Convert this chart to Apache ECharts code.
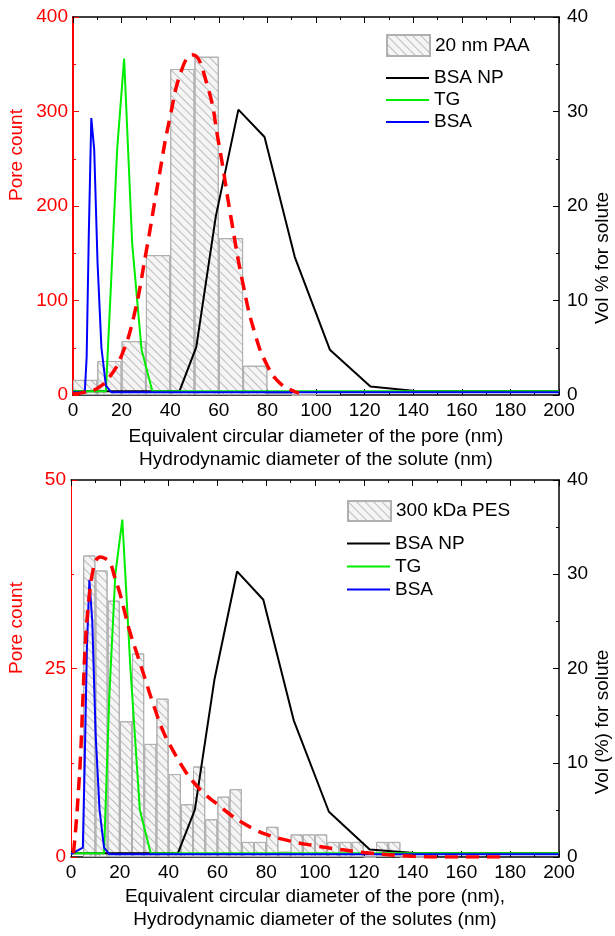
<!DOCTYPE html>
<html><head><meta charset="utf-8">
<script src="https://cdn.jsdelivr.net/npm/echarts@6/dist/echarts.min.js"></script>
<style>html,body{margin:0;padding:0;background:#fff}#c{width:615px;height:936px}</style>
</head><body><div id="c"></div>
<script>
// ---------- DATA ----------
// Top panel: 20 nm PAA pore histogram (bin start, width 10 nm) and fit
const topBinStarts = [0, 10, 20, 30, 40, 50, 60, 70, 80, 90, 100];
const topCounts    = [16, 36, 57, 148, 345, 358, 166, 31, 2, 0, 1];
const topFitX = [0, 5, 10, 15, 20, 25, 30, 35, 40, 45, 49, 55, 60, 65, 70, 75, 80, 85, 90, 93];
const topFitY = [1, 3, 7, 19, 42, 83, 150, 225, 295, 346, 360, 330, 266, 188, 117, 64, 31, 13, 5, 2];
// Bottom panel: 300 kDa PES pore histogram (bin start, width 5 nm) and fit
const botBinStarts = [5, 10, 15, 20, 25, 30, 35, 40, 45, 50, 55, 60, 65, 70, 75, 80, 85, 90, 95, 100, 105, 110, 115, 120, 125, 130, 135, 140, 145];
const botCounts    = [40, 38, 34, 18, 27, 15, 21, 11, 7, 12, 5, 8, 9, 2, 2, 4, 0.7, 3, 3, 3, 2, 2, 2, 0, 2, 2, 0, 0, 0.5];
const botFitX = [1, 2, 3, 4, 5, 6, 7, 8, 9, 10, 12, 14, 16, 18, 20, 22, 24, 27, 30, 34, 38, 42, 46, 50, 55, 60, 65, 70, 75, 80, 90, 100, 110, 120, 130, 140, 150, 178];
const botFitY = [0.5, 4, 8.5, 14, 22, 29, 33, 36, 38, 39.2, 39.8, 39.6, 39, 37, 35, 32.5, 30, 27, 24, 20, 16.5, 14, 11.8, 10, 8.3, 7, 5.7, 4.6, 3.7, 3, 2.1, 1.5, 1, 0.6, 0.3, 0.1, 0, 0];
// DLS size bins (nm) and volume % for solutes
const bsaX   = [0, 4.85, 5.615, 6.503, 7.531, 8.721, 10.1, 11.7, 13.54, 15.69, 200];
const bsaTop = [0.3, 0.3, 4, 17, 29.3, 26, 14, 5, 1, 0.3, 0.3];
const bsaBot = [0.3, 1, 10, 22, 29.4, 25, 13, 5, 1, 0.3, 0.3];
const tgX    = [0, 13.54, 15.69, 18.17, 21.04, 24.36, 28.21, 32.67, 200];
const tgTop  = [0.4, 0.4, 12, 26, 35.6, 16, 4.8, 0.4, 0.4];
const tgBot  = [0.4, 0.4, 17, 30, 35.8, 20, 5, 0.4, 0.4];
const npX    = [0, 37.84, 43.82, 50.75, 58.77, 68.06, 78.82, 91.28, 105.7, 122.4, 141.8, 200];
const npTop  = [0.4, 0.4, 0.4, 5.1, 18.9, 30.2, 27.3, 14.6, 4.8, 0.9, 0.4, 0.4];
const npBot  = [0.4, 0.4, 0.4, 5, 18.8, 30.3, 27.3, 14.5, 4.8, 0.8, 0.4, 0.4];

// ---------- LAYOUT ----------
const FONT = 'Liberation Sans, Arial, sans-serif';
const FS = 19;
const G0 = {left: 73, top: 17, width: 486, height: 378};
const G1 = {left: 71, top: 480, width: 488, height: 377};
const zip = (xs, ys) => xs.map((x, i) => [x, ys[i]]);
const hatch = {symbol: 'rect', symbolSize: 1, dashArrayX: [[1, 0]], dashArrayY: [1, 5], rotation: Math.PI / 4, color: 'rgba(120,120,120,0.45)'};

function xAx(grid, pos, name) {
  return {
    gridIndex: grid, type: 'value', position: pos, min: 0, max: 200, interval: 20,
    axisLine: {show: true, onZero: false, lineStyle: {color: '#000', width: 1.5}},
    axisTick: {show: true, inside: true, length: 6, lineStyle: {color: '#000', width: 1}},
    minorTick: {show: true, splitNumber: 2, length: 3, lineStyle: {color: '#000'}},
    axisLabel: {show: pos === 'bottom', color: '#000', fontSize: FS, fontFamily: FONT, margin: 6},
    splitLine: {show: false},
    name: name || '', nameLocation: 'middle', nameGap: 0,
    nameTextStyle: {color: '#000', fontSize: FS, fontFamily: FONT, lineHeight: 23, verticalAlign: 'top'}
  };
}
function yAx(grid, pos, max, interval, color, lw) {
  return {
    gridIndex: grid, type: 'value', position: pos, min: 0, max: max, interval: interval,
    axisLine: {show: true, onZero: false, lineStyle: {color: color, width: lw}},
    axisTick: {show: true, inside: true, length: 6, lineStyle: {color: color, width: 1}},
    minorTick: {show: true, splitNumber: 2, length: 3, lineStyle: {color: color}},
    axisLabel: {color: color, fontSize: FS, fontFamily: FONT, margin: pos === 'left' ? 5 : 8},
    splitLine: {show: false}
  };
}

const xb0 = xAx(0, 'bottom', 'Equivalent circular diameter of the pore (nm)\nHydrodynamic diameter of the solute (nm)');
xb0.nameGap = 30;
const xb1 = xAx(1, 'bottom', 'Equivalent circular diameter of the pore (nm),\nHydrodynamic diameter of the solutes (nm)');
xb1.nameGap = 28;

const barW0 = G0.width / 200 * 10;
const barW1 = G1.width / 200 * 5;

function lineS(name, xi, yi, xs, ys, color) {
  return {name: name, type: 'line', xAxisIndex: xi, yAxisIndex: yi, data: zip(xs, ys),
    symbol: 'none', lineStyle: {color: color, width: 2}, itemStyle: {color: color}, z: 3};
}
const lineLegendItem = n => ({name: n, icon: 'rect'});

const option = {
  animation: false,
  backgroundColor: '#fff',
  grid: [
    {left: G0.left, top: G0.top, width: G0.width, height: G0.height},
    {left: G1.left, top: G1.top, width: G1.width, height: G1.height}
  ],
  xAxis: [xb0, xAx(0, 'top'), xb1, xAx(1, 'top')],
  yAxis: [
    yAx(0, 'left', 400, 100, '#ff0000', 2),
    yAx(0, 'right', 40, 10, '#000', 1.5),
    yAx(1, 'left', 50, 25, '#ff0000', 1),
    yAx(1, 'right', 40, 10, '#000', 1.5)
  ],
  legend: [
    {data: [{name: '20 nm PAA', icon: 'rect'}], left: 381, top: 29, itemWidth: 43, itemHeight: 21, itemGap: 0,
     textStyle: {fontSize: FS, fontFamily: FONT, color: '#000'}},
    {data: ['BSA NP', 'TG', 'BSA'].map(lineLegendItem), orient: 'vertical', left: 381, top: 62, itemWidth: 43, itemHeight: 2, itemGap: 0,
     textStyle: {fontSize: FS, fontFamily: FONT, color: '#000', lineHeight: 22}},
    {data: [{name: '300 kDa PES', icon: 'rect'}], left: 342, top: 495, itemWidth: 43, itemHeight: 20, itemGap: 0,
     textStyle: {fontSize: FS, fontFamily: FONT, color: '#000'}},
    {data: ['BSA NP ', 'TG ', 'BSA '].map(lineLegendItem), orient: 'vertical', left: 342, top: 527, itemWidth: 43, itemHeight: 2, itemGap: 0,
     textStyle: {fontSize: FS, fontFamily: FONT, color: '#000', lineHeight: 23},
     formatter: n => n.trim()}
  ],
  graphic: [
    {type: 'text', x: 17, y: 155, rotation: Math.PI / 2, style: {text: 'Pore count', fill: '#ff0000', font: FS + 'px ' + FONT, align: 'center', verticalAlign: 'middle'}},
    {type: 'text', x: 603, y: 258, rotation: Math.PI / 2, style: {text: 'Vol % for solute', fill: '#000', font: FS + 'px ' + FONT, align: 'center', verticalAlign: 'middle'}},
    {type: 'text', x: 17, y: 628, rotation: Math.PI / 2, style: {text: 'Pore count', fill: '#ff0000', font: FS + 'px ' + FONT, align: 'center', verticalAlign: 'middle'}},
    {type: 'text', x: 603, y: 722, rotation: Math.PI / 2, style: {text: 'Vol (%) for solute', fill: '#000', font: FS + 'px ' + FONT, align: 'center', verticalAlign: 'middle'}}
  ],
  series: [
    {name: '20 nm PAA', type: 'bar', xAxisIndex: 0, yAxisIndex: 0, barWidth: barW0,
     data: topBinStarts.map((s, i) => [s + 5, topCounts[i]]),
     itemStyle: {color: '#f5f5f5', borderColor: '#b0b0b0', borderWidth: 1, decal: hatch}, z: 1},
    {name: 'Fit top', type: 'line', xAxisIndex: 0, yAxisIndex: 0, data: zip(topFitX, topFitY), symbol: 'none', smooth: true,
     lineStyle: {color: '#ff0000', width: 3.5, type: [13, 8]}, z: 4},
    lineS('BSA NP', 0, 1, npX, npTop, '#000000'),
    lineS('TG', 0, 1, tgX, tgTop, '#00ee00'),
    lineS('BSA', 0, 1, bsaX, bsaTop, '#0000ff'),
    {name: '300 kDa PES', type: 'bar', xAxisIndex: 2, yAxisIndex: 2, barWidth: barW1,
     data: botBinStarts.map((s, i) => [s + 2.5, botCounts[i]]),
     itemStyle: {color: '#f5f5f5', borderColor: '#b0b0b0', borderWidth: 1, decal: hatch}, z: 1},
    {name: 'Fit bottom', type: 'line', xAxisIndex: 2, yAxisIndex: 2, data: zip(botFitX, botFitY), symbol: 'none', smooth: true,
     lineStyle: {color: '#ff0000', width: 3.5, type: [13, 8]}, z: 4},
    lineS('BSA NP ', 2, 3, npX, npBot, '#000000'),
    lineS('TG ', 2, 3, tgX, tgBot, '#00ee00'),
    lineS('BSA ', 2, 3, bsaX, bsaBot, '#0000ff')
  ]
};
const chart = echarts.init(document.getElementById('c'), null, {renderer: 'canvas'});
chart.setOption(option);
</script>
</body></html>
